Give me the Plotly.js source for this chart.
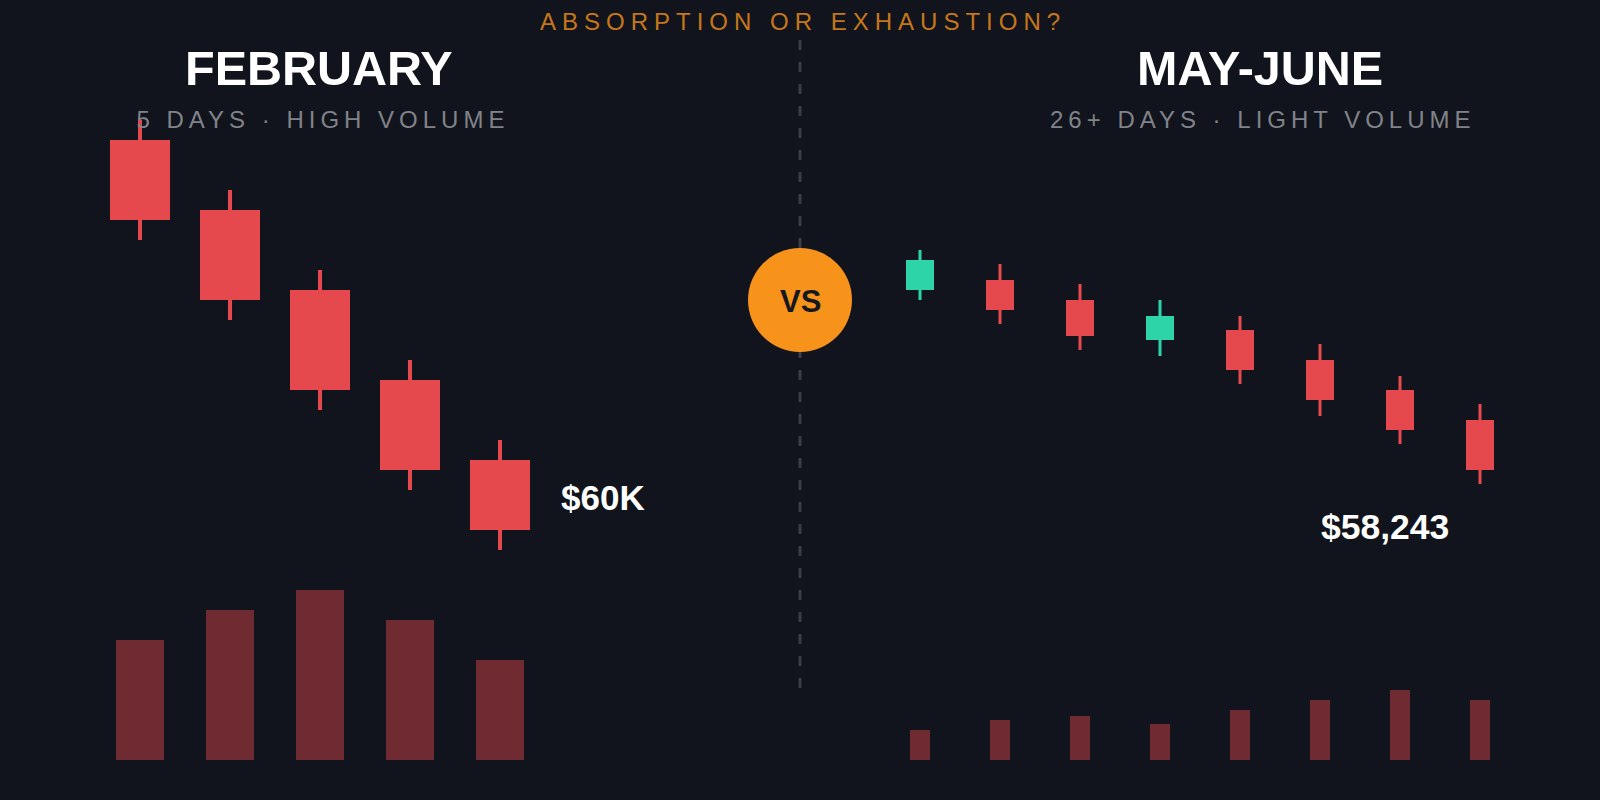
<!DOCTYPE html>
<html>
<head>
<meta charset="utf-8">
<script src="https://cdn.plot.ly/plotly-3.0.1.min.js"></script>
<style>
  html, body { margin: 0; padding: 0; background: #11141c; }
  #chart { width: 1600px; height: 800px; }
</style>
</head>
<body>
<div id="chart"></div>
<script>
// ---- Data ----
const febDays   = ['Feb 1', 'Feb 2', 'Feb 3', 'Feb 4', 'Feb 5'];
const febOpen   = [68875, 67125, 65125, 62875, 60875];
const febHigh   = [69375, 67625, 65625, 63375, 61375];
const febLow    = [66375, 64375, 62125, 60125, 58625];
const febClose  = [66875, 64875, 62625, 60625, 59125];
const febVolume = [12, 15, 17, 14, 10];
const febLabel  = '$60K';
const febLabelPrice = 60000;

const mjDays   = ['Day 1', 'Day 2', 'Day 3', 'Day 4', 'Day 5', 'Day 6', 'Day 7', 'Day 8'];
const mjOpen   = [69043, 69643, 68443, 66043, 66643, 64843, 63043, 61243];
const mjHigh   = [71443, 70603, 69403, 68443, 67483, 65803, 63883, 62203];
const mjLow    = [68443, 67003, 65443, 65083, 63403, 61483, 59803, 57403];
const mjClose  = [70843, 67843, 66283, 67483, 64243, 62443, 60643, 58243];
const mjVolume = [3, 4, 4.4, 3.6, 5, 6, 7, 6];
const mjLabel  = '$58,243';

const headline = 'ABSORPTION OR EXHAUSTION?';
const leftTitle = 'FEBRUARY';
const leftSub = '5 DAYS · HIGH VOLUME';
const rightTitle = 'MAY-JUNE';
const rightSub = '26+ DAYS · LIGHT VOLUME';
const vsText = 'VS';

// ---- Styles ----
const BG = '#11141c';
const UP = '#2dd4a8';
const DOWN = '#e5484d';
const VOL = 'rgba(229,72,77,0.45)';
const ORANGE = '#f7931a';
const FONT = 'Liberation Sans, Arial, Helvetica, sans-serif';

function candleTraces(x, o, h, l, c, xa, ya, bodyW, wickW) {
  const colors = o.map((v, i) => (c[i] >= v ? UP : DOWN));
  const wick = {
    type: 'bar', x: x, base: l, y: h.map((v, i) => v - l[i]),
    width: wickW, marker: { color: colors, line: { width: 0 } },
    xaxis: xa, yaxis: ya, hoverinfo: 'skip', showlegend: false
  };
  const body = {
    type: 'bar', x: x, base: o.map((v, i) => Math.min(v, c[i])),
    y: o.map((v, i) => Math.abs(c[i] - v)),
    width: bodyW, marker: { color: colors, line: { width: 0 } },
    xaxis: xa, yaxis: ya, hoverinfo: 'skip', showlegend: false
  };
  return [wick, body];
}

const traces = [
  ...candleTraces(febDays, febOpen, febHigh, febLow, febClose, 'x', 'y', 0.667, 0.045),
  ...candleTraces(mjDays, mjOpen, mjHigh, mjLow, mjClose, 'x2', 'y2', 0.35, 0.038),
  { type: 'bar', x: febDays, y: febVolume, width: 0.533, marker: { color: VOL, line: { width: 0 } },
    xaxis: 'x', yaxis: 'y3', hoverinfo: 'skip', showlegend: false },
  { type: 'bar', x: mjDays, y: mjVolume, width: 0.25, marker: { color: VOL, line: { width: 0 } },
    xaxis: 'x2', yaxis: 'y3', hoverinfo: 'skip', showlegend: false }
];

const hidden = { visible: false, showgrid: false, zeroline: false, fixedrange: true };

const layout = {
  width: 1600, height: 800,
  margin: { l: 0, r: 0, t: 0, b: 0 },
  paper_bgcolor: BG, plot_bgcolor: 'rgba(0,0,0,0)',
  barmode: 'overlay',
  showlegend: false,
  font: { family: FONT, color: '#ffffff' },
  xaxis:  Object.assign({}, hidden, { type: 'category', domain: [0, 0.5], range: [-1.5556, 7.3333], anchor: 'y' }),
  xaxis2: Object.assign({}, hidden, { type: 'category', domain: [0.5, 1], range: [-1.5, 8.5], anchor: 'y2' }),
  yaxis:  Object.assign({}, hidden, { domain: [0, 1], range: [52375, 72375], anchor: 'x' }),
  yaxis2: Object.assign({}, hidden, { domain: [0, 1], range: [38443, 86443], anchor: 'x2' }),
  yaxis3: Object.assign({}, hidden, { domain: [0.05, 0.3], range: [0, 20], anchor: 'x' }),
  shapes: [
    { type: 'line', xref: 'paper', yref: 'paper', x0: 0.5, x1: 0.5, y0: 0.95, y1: 0.1375,
      line: { color: '#3a3d45', width: 3, dash: '10px,12px' }, layer: 'below' },
    { type: 'circle', xref: 'paper', yref: 'paper', xsizemode: 'pixel', ysizemode: 'pixel',
      xanchor: 0.5, yanchor: 0.625, x0: -52, x1: 52, y0: -52, y1: 52,
      fillcolor: ORANGE, line: { width: 0 }, layer: 'above' }
  ],
  annotations: [
    { text: headline, xref: 'paper', yref: 'paper', x: 0.5, y: 0.9729, xanchor: 'center', yanchor: 'middle',
      showarrow: false, font: { family: FONT, size: 24, color: 'rgba(247,147,26,0.8)' } },
    { text: '<b>' + leftTitle + '</b>', xref: 'paper', yref: 'paper', x: 319 / 1600, y: 0.915,
      xanchor: 'center', yanchor: 'middle', showarrow: false, font: { family: FONT, size: 48.5, color: '#ffffff' } },
    { text: '<b>' + rightTitle + '</b>', xref: 'paper', yref: 'paper', x: 1259.5 / 1600, y: 0.915,
      xanchor: 'center', yanchor: 'middle', showarrow: false, font: { family: FONT, size: 48.5, color: '#ffffff' } },
    { text: leftSub, xref: 'paper', yref: 'paper', x: 320 / 1600, y: 0.85125,
      xanchor: 'center', yanchor: 'middle', showarrow: false, font: { family: FONT, size: 24, color: '#808389' } },
    { text: rightSub, xref: 'paper', yref: 'paper', x: 1260 / 1600, y: 0.85125,
      xanchor: 'center', yanchor: 'middle', showarrow: false, font: { family: FONT, size: 24, color: '#808389' } },
    { text: '<b>' + vsText + '</b>', xref: 'paper', yref: 'paper', x: 0.5, y: 1 - 301 / 800,
      xanchor: 'center', yanchor: 'middle', showarrow: false, font: { family: FONT, size: 31, color: '#161820' } },
    { text: '<b>' + febLabel + '</b>', xref: 'x', yref: 'y', x: febDays[febDays.length - 1], y: febLabelPrice,
      xanchor: 'left', yanchor: 'middle', xshift: 59, yshift: -2, showarrow: false,
      font: { family: FONT, size: 35, color: '#ffffff' } },
    { text: '<b>' + mjLabel + '</b>', xref: 'x2', yref: 'y2', x: mjDays[mjDays.length - 1], y: mjClose[mjClose.length - 1],
      xanchor: 'center', yanchor: 'middle', xshift: -95, yshift: -57, showarrow: false,
      font: { family: FONT, size: 35.5, color: '#ffffff' } }
  ]
};

const spacing = {};
spacing[headline] = 6.0;
spacing[leftSub] = 5;
spacing[rightSub] = 5;

Plotly.newPlot('chart', traces, layout, { staticPlot: true, displayModeBar: false }).then(function () {
  document.querySelectorAll('.annotation-text').forEach(function (el) {
    const s = spacing[el.textContent];
    if (s) {
      el.style.letterSpacing = s + 'px';
      // compensate the trailing gap so the visible text stays centred
      el.setAttribute('dx', (s / 2).toFixed(1));
    }
  });
});
</script>
</body>
</html>
